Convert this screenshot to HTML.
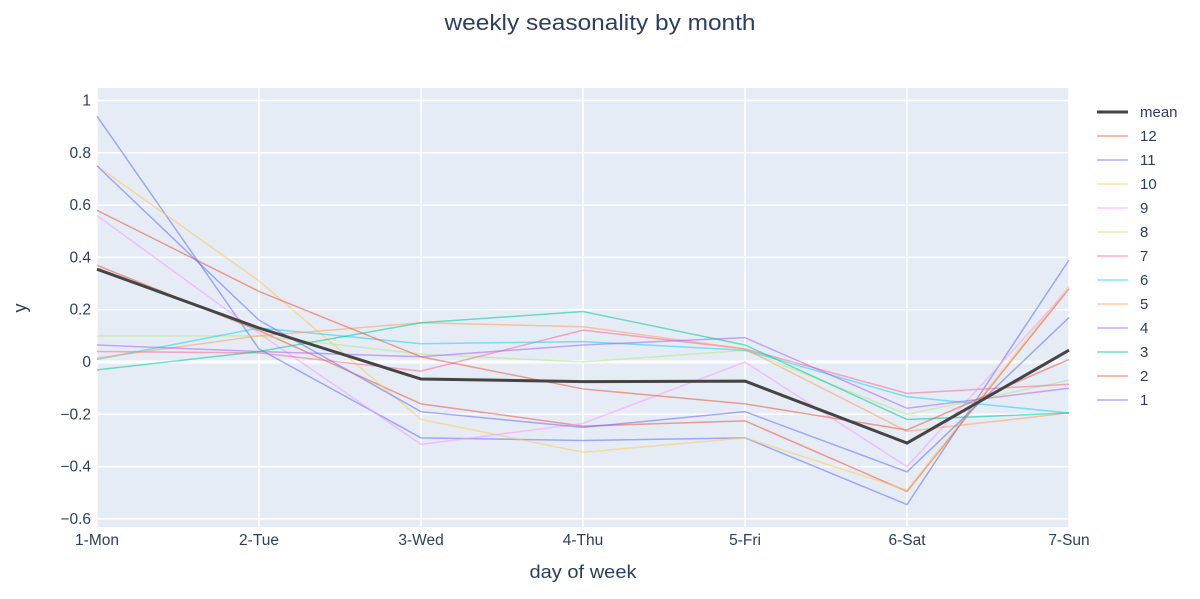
<!DOCTYPE html>
<html><head><meta charset="utf-8"><style>
body{margin:0;background:#fff;font-family:"Liberation Sans",sans-serif}
svg text{font-family:"Liberation Sans",sans-serif;fill:#2a3f5f}
</style></head><body>
<svg id="c" width="1200" height="594">
<text x="600" y="30" font-size="22" text-anchor="middle" textLength="311" lengthAdjust="spacingAndGlyphs">weekly seasonality by month</text>
<rect x="97" y="88" width="972" height="439" fill="#e5ecf6"/>
<g id="grid"></g><g id="lines"></g><g id="legend"></g>
<text x="583" y="578" font-size="18" text-anchor="middle" textLength="107" lengthAdjust="spacingAndGlyphs">day of week</text>
<text x="26" y="308" font-size="18" text-anchor="middle" transform="rotate(-90 26 308)">y</text>
</svg>
<script>
const categories=["1-Mon","2-Tue","3-Wed","4-Thu","5-Fri","6-Sat","7-Sun"];
const yTicks=[-0.6,-0.4,-0.2,0,0.2,0.4,0.6,0.8,1];
const yTickLabels=["−0.6","−0.4","−0.2","0","0.2","0.4","0.6","0.8","1"];
const seriesNames=["12","11","10","9","8","7","6","5","4","3","2","1"];
const s12=[0.37,0.12,-0.16,-0.245,-0.225,-0.495,0.28];
const s11=[0.94,0.05,-0.29,-0.30,-0.29,-0.545,0.39];
const s10=[0.75,0.31,-0.22,-0.345,-0.29,-0.49,0.29];
const s9=[0.56,0.11,-0.315,-0.235,0.0,-0.40,0.28];
const s8=[0.10,0.10,0.03,0.0,0.045,-0.20,-0.07];
const s7=[0.04,0.035,-0.035,0.122,0.05,-0.12,-0.085];
const s6=[0.01,0.13,0.07,0.078,0.045,-0.133,-0.195];
const s5=[0.015,0.10,0.15,0.135,0.05,-0.265,-0.195];
const s4=[0.065,0.04,0.02,0.065,0.093,-0.177,-0.10];
const s3=[-0.03,0.04,0.15,0.193,0.065,-0.22,-0.195];
const s2=[0.58,0.27,0.02,-0.103,-0.16,-0.26,0.01];
const s1=[0.75,0.16,-0.19,-0.25,-0.19,-0.42,0.17];
const meanVals=[0.355,0.13,-0.065,-0.075,-0.073,-0.31,0.045];
const seriesData=[s12,s11,s10,s9,s8,s7,s6,s5,s4,s3,s2,s1];
const colors=["#EF553B","#636efa","#FECB52","#FF97FF","#B6E880","#FF6692","#19d3f3","#FFA15A","#ab63fa","#00cc96","#EF553B","#636efa"];
const NS="http://www.w3.org/2000/svg";
const X=i=>97+i*(1069-97)/(categories.length-1);
const Y=v=>362-v*261.5;
function mk(t,a,p){const e=document.createElementNS(NS,t);for(const k in a)e.setAttribute(k,a[k]);p.appendChild(e);return e;}
const g=document.getElementById('grid');
categories.forEach((c,i)=>{
 const l=mk('line',{x1:X(i),x2:X(i),y1:88,y2:527,stroke:'#fff','stroke-width':1.5},g);
 
 
 const t=mk('text',{x:X(i),y:545,'font-size':15.5,'text-anchor':'middle'},g);t.textContent=c;
 
 
});
yTicks.forEach((v,i)=>{
 const l=mk('line',{x1:97,x2:1069,y1:Y(v),y2:Y(v),stroke:'#fff','stroke-width':v===0?3:1.5},g);
 
 
 const t=mk('text',{x:91,y:Y(v)+5,'font-size':15.5,'text-anchor':'end'},g);t.textContent=yTickLabels[i];
 
 
});
const L=document.getElementById('lines'),G=document.getElementById('legend');
function pts(a){return a.map((v,i)=>X(i)+','+Y(v)).join(' ');}
seriesData.forEach((d,k)=>{
 const p=mk('polyline',{points:pts(d),fill:'none',stroke:colors[k],'stroke-width':1.5,'stroke-opacity':0.55},L);
 
 
});
const m=mk('polyline',{points:pts(meanVals),fill:'none',stroke:'#444','stroke-width':3},L);


const names=["mean"].concat(seriesNames),cols=["#444"].concat(colors);
names.forEach((n,k)=>{
 const y=112+k*24;
 const gi=mk('g',{},G);
 
 
 mk('line',{x1:1097,x2:1128,y1:y,y2:y,stroke:cols[k],'stroke-width':k?1.5:3,'stroke-opacity':k?0.55:1},gi);
 const t=mk('text',{x:1140,y:y+5,'font-size':15},gi);t.textContent=n;
});
</script>
</body></html>
